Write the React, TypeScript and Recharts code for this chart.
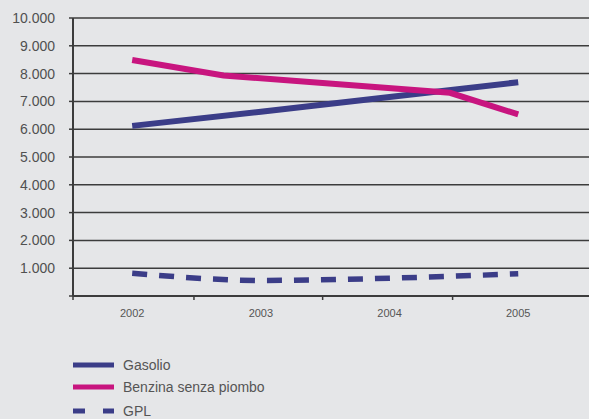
import React from 'react';
import { LineChart, Line, XAxis, YAxis, CartesianGrid, Legend } from 'recharts';

const yearLabels = [2002, 2003, 2004, 2005];
const boundaryTicks = [2001.54, 2002.48, 2003.48, 2004.49];
const xDomain = [2001.54, 2005.55];
const yTicks = [0, 1000, 2000, 3000, 4000, 5000, 6000, 7000, 8000, 9000, 10000];
const seriesNames = ['Gasolio', 'Benzina senza piombo', 'GPL'];

const gasolioX = [2002, 2003, 2004, 2005];
const gasolioY = [6120, 6630, 7160, 7690];

const benzinaX = [2002, 2002.71, 2004.47, 2005];
const benzinaY = [8490, 7930, 7310, 6530];

const gplX = [2002, 2003, 2004, 2005];
const gplY = [820, 560, 640, 800];

const toPoints = (xs: number[], ys: number[]) => xs.map((x, i) => ({ x, y: ys[i] }));

const gasolioData = toPoints(gasolioX, gasolioY);
const benzinaData = toPoints(benzinaX, benzinaY);
const gplData = toPoints(gplX, gplY);

const BG = '#e5e6e8';
const GRID = '#3c3c3c';
const BLUE = '#3b3d88';
const MAGENTA = '#c8157f';
const FONT = '"Liberation Sans", Arial, sans-serif';

const fmt = (v: number) => (v === 0 ? '' : (v / 1000).toFixed(3));

const XTick = (props: any) => {
  const { x, y, payload } = props;
  const v = payload.value;
  if (yearLabels.includes(v)) {
    return (
      <text x={x} y={y + 17} textAnchor="middle" dominantBaseline="central" fontSize={11} fill="#555" fontFamily={FONT}>
        {v}
      </text>
    );
  }
  return <line x1={x} x2={x} y1={y} y2={y + 4} stroke={GRID} strokeWidth={1.5} />;
};

const legendRowY = [15, 37, 61];

const LegendContent = (props: any) => {
  const payload: any[] = props.payload || [];
  return (
    <div style={{ width: 589, height: 66 }}>
      <svg width={589} height={66} style={{ display: 'block', overflow: 'visible' }}>
        {seriesNames.map((name, i) => {
          const entry = payload.find((p) => p.value === name) || {};
          const dash = entry.payload?.strokeDasharray ? '12 18' : undefined;
          const y = legendRowY[i];
          return (
            <g key={name}>
              <line x1={73} x2={114} y1={y} y2={y} stroke={entry.color || BLUE} strokeWidth={5} strokeDasharray={dash} />
              <text x={123} y={y} dominantBaseline="central" fontSize={14} fill="#555" fontFamily={FONT}>
                {name}
              </text>
            </g>
          );
        })}
      </svg>
    </div>
  );
};

export default function App() {
  return (
    <div style={{ position: 'absolute', left: 0, top: 0, width: 589, height: 419, background: BG }}>
      <LineChart width={589} height={419} margin={{ top: 18, right: 0, left: 0, bottom: 3 }}>
        <CartesianGrid vertical={false} stroke={GRID} strokeWidth={1.5} strokeOpacity={1} />
        <XAxis
          dataKey="x"
          type="number"
          domain={xDomain}
          ticks={[...boundaryTicks, ...yearLabels].sort((a, b) => a - b)}
          interval={0}
          allowDataOverflow
          tick={<XTick />}
          tickLine={false}
          tickSize={0}
          tickMargin={0}
          height={54}
          axisLine={{ stroke: GRID, strokeWidth: 2 }}
        />
        <YAxis
          type="number"
          domain={[0, 10000]}
          ticks={yTicks}
          interval={0}
          width={73}
          tickFormatter={fmt}
          tickSize={4}
          tickMargin={14}
          tickLine={{ stroke: GRID, strokeWidth: 1.5 }}
          axisLine={{ stroke: GRID, strokeWidth: 2 }}
          tick={{ fontSize: 14, fill: '#505050', fontFamily: FONT }}
        />
        <Legend verticalAlign="bottom" align="left" layout="horizontal" content={<LegendContent />} />
        <Line data={gasolioData} dataKey="y" name={seriesNames[0]} type="linear" stroke={BLUE} strokeWidth={6} dot={false} isAnimationActive={false} />
        <Line data={benzinaData} dataKey="y" name={seriesNames[1]} type="linear" stroke={MAGENTA} strokeWidth={6} dot={false} isAnimationActive={false} />
        <Line data={gplData} dataKey="y" name={seriesNames[2]} type="monotone" stroke={BLUE} strokeWidth={5.5} strokeDasharray="15 12" dot={false} isAnimationActive={false} />
      </LineChart>
    </div>
  );
}
